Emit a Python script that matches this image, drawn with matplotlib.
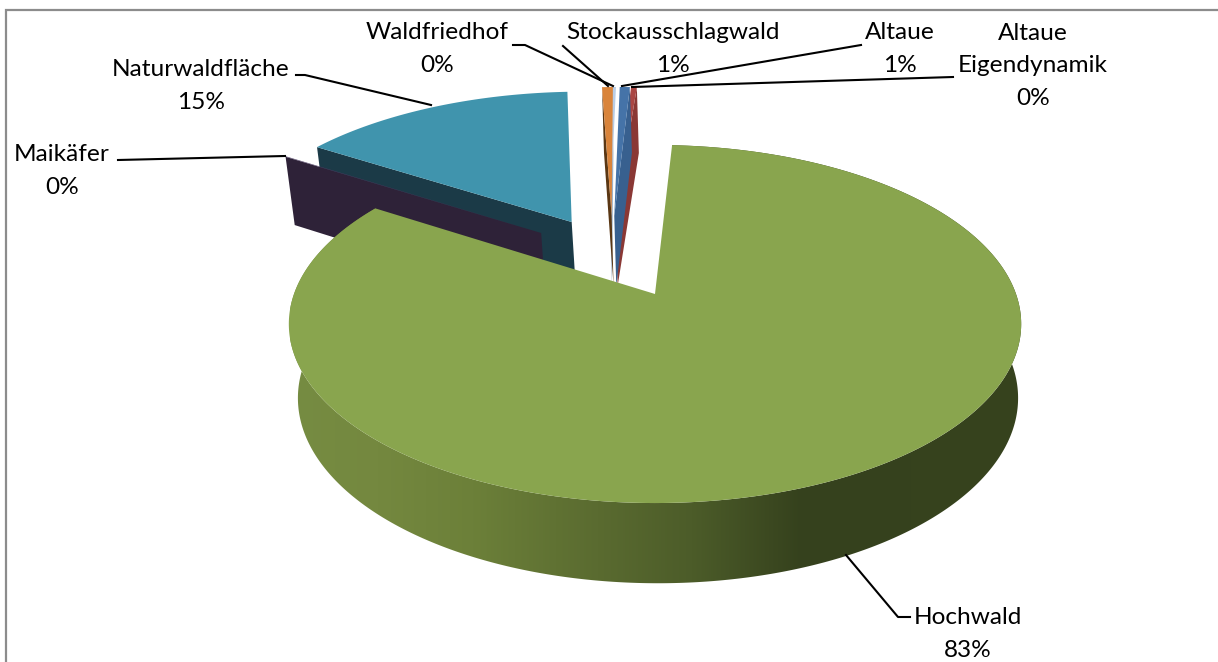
import numpy as np
import matplotlib
matplotlib.use('Agg')
import matplotlib.pyplot as plt
from matplotlib.colors import LinearSegmentedColormap
from matplotlib.patches import Polygon

plt.rcParams['font.family'] = ['Lato', 'DejaVu Sans']

# clockwise from 12 o'clock, as the spreadsheet had them
names = ['Altaue', 'Altaue\nEigendynamik', 'Hochwald', 'Maikäfer', 'Naturwaldfläche', 'Stockausschlagwald', 'Waldfriedhof']
shares = [0.56, 0.32, 83.15, 0.05, 15.1, 0.6, 0.25]

tops = ['#4573a8', '#aa4643', '#89a54e', '#4a3a60', '#4094ad', '#d9843b', '#b9cde5']
walls = ['#38608f', '#8a3835', '#5b6c31', '#2e2238', '#1b3a47', '#5a3714', '#9fb2c8']
# slice tip in plan view, pie radius = 1 (this is the explosion)
tip_u = [-0.122, -0.118, 0.0, -0.335, -0.248, -0.13, -0.135]
tip_v = [0.486, 0.486, 0.0, 0.3725, 0.4445, 0.486, 0.486]
draw_order = [4, 3, 6, 5, 1, 0]
face_on_end = [0, 1]  # these show the clockwise cut face
thin = [0, 1, 5, 6]

# perspective of the pie, in pixels
K = 0.1676
TOP = dict(cx=655, cy=294, rx=361, ry=174)
BOTTOM = dict(cx=658, cy=367, rx=355, ry=180)
BOTTOM_THIN = dict(cx=657, cy=367, rx=361, ry=180)


def project(u, v, p):
    w = 1 + K * np.asarray(v)
    return p['cx'] + p['rx'] * np.asarray(u) / w, p['cy'] - p['ry'] * np.asarray(v) / w


def rim(i, a0, a1, n=200):
    a = np.linspace(a0, a1, n)
    return tip_u[i] + np.sin(a), tip_v[i] + np.cos(a)


fig = plt.figure(figsize=(12.18, 6.62), dpi=100)
ax = fig.add_axes([0, 0, 1, 1])
ax.set_xlim(0, 1218)
ax.set_ylim(662, 0)
ax.axis('off')

# chart frame, only top and left are in the crop
ax.plot([5.5, 5.5, 1218], [662, 9.5, 9.5], color='#8c8c8c', lw=1.6, solid_joinstyle='miter', zorder=1)

edges = np.cumsum([0] + shares) / sum(shares) * 2 * np.pi

for i in draw_order:
    a0, a1 = edges[i], edges[i + 1]
    u, v = rim(i, a0, a1)
    # cut face on the side that looks at the viewer
    a_face = a1 if i in face_on_end else a0
    fu = [tip_u[i], tip_u[i] + np.sin(a_face)]
    fv = [tip_v[i], tip_v[i] + np.cos(a_face)]
    tx, ty = project(fu, fv, TOP)
    bx, by = project(fu, fv, BOTTOM_THIN if i in thin else BOTTOM)
    ax.add_patch(Polygon(np.c_[[tx[0], tx[1], bx[1], bx[0]], [ty[0], ty[1], by[1], by[0]]],
                         fc=walls[i], ec='none', zorder=2))
    xs, ys = project(np.r_[tip_u[i], u], np.r_[tip_v[i], v], TOP)
    ax.add_patch(Polygon(np.c_[xs, ys], fc=tops[i], ec='none', zorder=2))

# big slice: outer wall with the shaded gradient, then the top
h = names.index('Hochwald')
u, v = rim(h, edges[h], edges[h + 1], 500)
xt, yt = project(u, v, TOP)
xb, yb = project(u, v, BOTTOM)
wall_cmap = LinearSegmentedColormap.from_list('wall', [
    (0.0, '#768c42'), (0.12, '#74883f'), (0.25, '#6c8039'), (0.42, '#5a6b30'),
    (0.55, '#4c5c29'), (0.70, '#35411d'), (1.0, '#37431e')])
wall = Polygon(np.c_[np.r_[xt, xb[::-1]], np.r_[yt, yb[::-1]]], fc='none', ec='none', zorder=3)
ax.add_patch(wall)
im = ax.imshow(np.linspace(0, 1, 256)[None, :], cmap=wall_cmap, extent=(290, 1022, 600, 100),
               aspect='auto', zorder=3, interpolation='bilinear')
im.set_clip_path(wall)
ax.set_xlim(0, 1218)
ax.set_ylim(662, 0)
xs, ys = project(np.r_[tip_u[h], u], np.r_[tip_v[h], v], TOP)
ax.add_patch(Polygon(np.c_[xs, ys], fc=tops[h], ec='none', zorder=4))

# data labels with leader lines
label_pos = [(900, 49), (1033, 66), (968, 634), (62, 171), (201, 86), (673, 49), (437, 49)]
leaders = [
    ([861, 622], [45, 86]),
    ([953, 632], [77, 87]),
    ([910, 898, 846], [617, 617, 555]),
    ([118, 285], [160, 156]),
    ([296, 305, 431], [75, 75, 105]),
    ([563, 608], [46, 86]),
    ([513, 525, 613], [45, 45, 86]),
]
for name, share, (lx, ly), (ex, ey) in zip(names, shares, label_pos, leaders):
    ax.text(lx, ly, f'{name}\n{share:.0f}%', ha='center', va='center', fontsize=17.6,
            color='black', linespacing=1.67, zorder=6)
    ax.plot(ex, ey, color='black', lw=1.5, zorder=5)

fig.savefig('out.png', dpi=100)
